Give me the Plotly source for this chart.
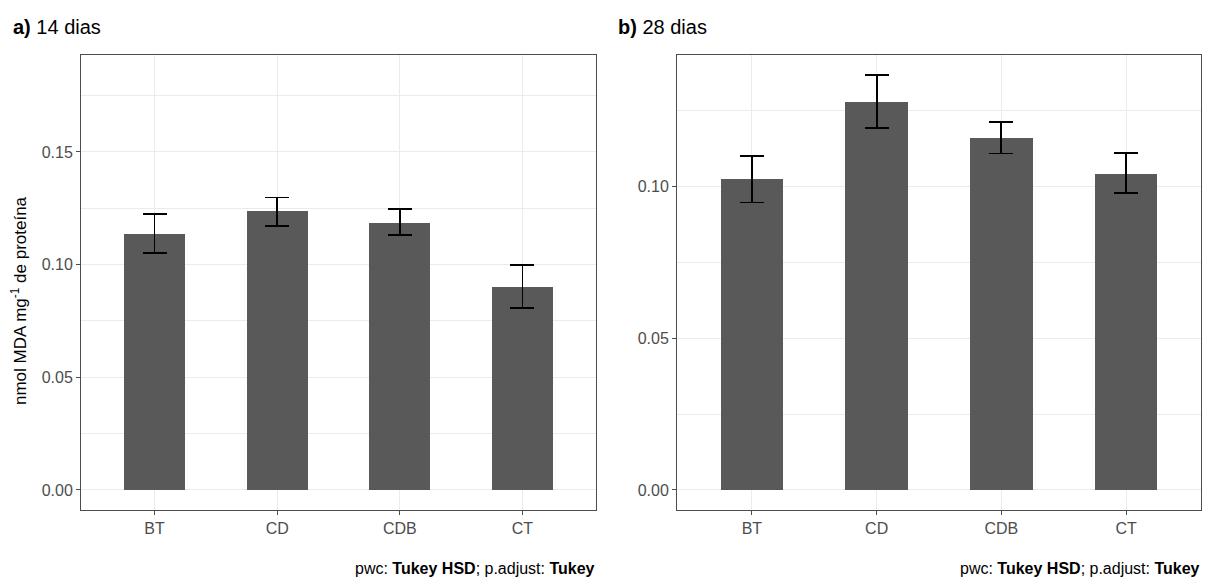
import plotly.graph_objects as go

W, H = 1214, 580

categories = ["BT", "CD", "CDB", "CT"]

# a) 14 dias
mean_14 = [0.1136, 0.1236, 0.1186, 0.0901]
upper_14 = [0.1226, 0.1298, 0.1245, 0.0997]
lower_14 = [0.1050, 0.1173, 0.1130, 0.0807]

# b) 28 dias
mean_28 = [0.1025, 0.1278, 0.1161, 0.1043]
upper_28 = [0.1102, 0.1368, 0.1213, 0.1110]
lower_28 = [0.0948, 0.1193, 0.1109, 0.0978]

y_ticks = [0.00, 0.05, 0.10, 0.15]
y_tick_labels = ["0.00", "0.05", "0.10", "0.15"]

FONT = "Liberation Sans, Arial, sans-serif"
BAR_COLOR = "#595959"
GRID = "#ebebeb"

fig = go.Figure()


def add_panel(means, up, lo, xa, ya):
    fig.add_trace(go.Bar(
        x=categories, y=means, width=0.5,
        marker=dict(color=BAR_COLOR, line=dict(width=0)),
        error_y=dict(type="data", symmetric=False,
                     array=[u - m for u, m in zip(up, means)],
                     arrayminus=[m - l for m, l in zip(means, lo)],
                     color="black", thickness=1.8, width=12),
        xaxis=xa, yaxis=ya, showlegend=False, hoverinfo="skip",
    ))


add_panel(mean_14, upper_14, lower_14, "x", "y")
add_panel(mean_28, upper_28, lower_28, "x2", "y2")


def px_x(p):
    return p / W


def px_y(p):
    return 1 - p / H


axis_common = dict(
    showline=True, linecolor="#4d4d4d", linewidth=1, mirror=True,
    ticks="outside", ticklen=4, tickcolor="#4d4d4d", tickwidth=1,
    tickfont=dict(family=FONT, size=16, color="#4d4d4d"),
    showgrid=True, gridcolor=GRID, gridwidth=1, zeroline=False,
)

xcommon = dict(axis_common, type="category", range=[-0.6, 3.6],
               categoryorder="array", categoryarray=categories)

ycommon = dict(axis_common, tickvals=y_ticks, ticktext=y_tick_labels,
               minor=dict(tickvals=[0.025, 0.075, 0.125, 0.175],
                          showgrid=True, gridcolor=GRID, gridwidth=1, ticks=""))

fig.update_layout(
    width=W, height=H,
    margin=dict(l=0, r=0, t=0, b=0),
    paper_bgcolor="white", plot_bgcolor="white",
    font=dict(family=FONT),
    bargap=0,
    xaxis=dict(xcommon, domain=[px_x(81), px_x(596)], anchor="y"),
    yaxis=dict(ycommon, domain=[px_y(510), px_y(55)], range=[-0.0089, 0.193], anchor="x"),
    xaxis2=dict(xcommon, domain=[px_x(677), px_x(1201)], anchor="y2"),
    yaxis2=dict(ycommon, domain=[px_y(510), px_y(55)], range=[-0.0066, 0.1434], anchor="x2"),
)

ann = []
TITLE_FONT = "Liberation Sans Narrow, Liberation Sans, Arial, sans-serif"
ann.append(dict(text="<b>a)</b> 14 dias", x=px_x(11), y=px_y(27), xref="paper", yref="paper",
                xanchor="left", yanchor="middle", showarrow=False,
                font=dict(family=TITLE_FONT, size=20, color="black")))
ann.append(dict(text="<b>b)</b> 28 dias", x=px_x(616), y=px_y(27), xref="paper", yref="paper",
                xanchor="left", yanchor="middle", showarrow=False,
                font=dict(family=TITLE_FONT, size=20, color="black")))
ann.append(dict(text="nmol MDA mg<sup>-1</sup> de proteína", x=px_x(19), y=px_y(301),
                xref="paper", yref="paper", xanchor="center", yanchor="middle",
                textangle=-90, showarrow=False,
                font=dict(family=FONT, size=17, color="black")))
for xr in (597, 1202):
    ann.append(dict(text="pwc: <b>Tukey HSD</b>; p.adjust: <b>Tukey</b>",
                    x=px_x(xr), y=px_y(568), xref="paper", yref="paper",
                    xanchor="right", yanchor="middle", showarrow=False,
                    font=dict(family=FONT, size=16, color="black")))
fig.update_layout(annotations=ann)

fig.write_html("out.html", config={"displayModeBar": False},
               post_script="document.body.style.margin='0';")
